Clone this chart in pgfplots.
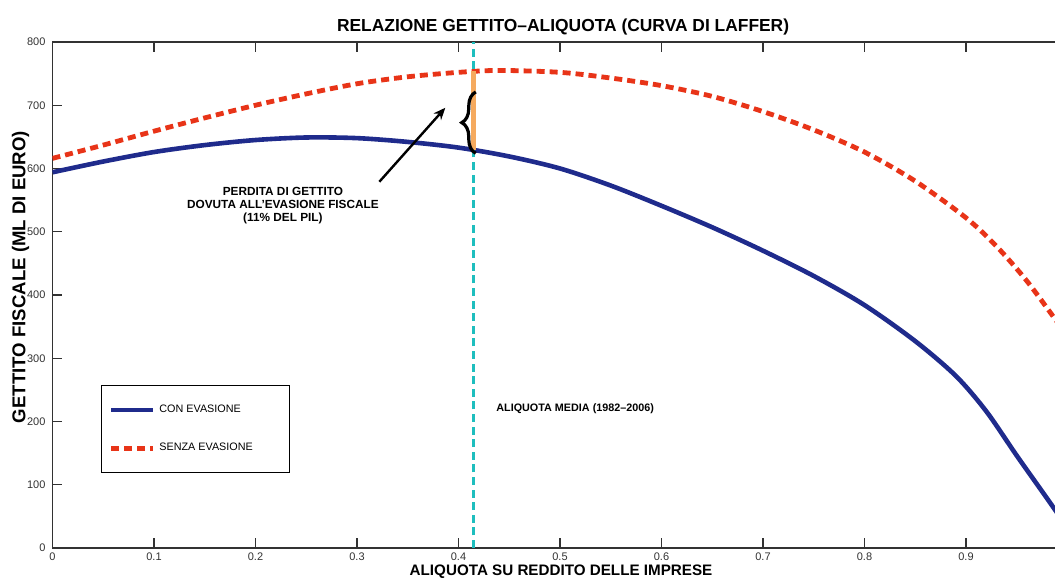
\documentclass[border=0pt]{standalone}
\usepackage{fontspec}
\setmainfont{Liberation Sans}
\usepackage{pgfplots}
\pgfplotsset{compat=1.18}
\usetikzlibrary{arrows.meta,decorations.pathreplacing}
\definecolor{cblue}{RGB}{31,43,140}
\definecolor{cred}{RGB}{232,52,24}
\definecolor{ccyan}{RGB}{30,190,190}
\definecolor{corange}{RGB}{245,170,95}
\definecolor{caxis}{RGB}{50,50,50}

\pgfplotstableread{
x y
0 594
0.05 611
0.1 626
0.15 637
0.2 645
0.25 649
0.3 648
0.35 642
0.4 633
0.45 619
0.5 600
0.55 573
0.6 541
0.65 507
0.7 470
0.75 430
0.8 384
0.85 327
0.89 272
0.92 216
0.95 146
0.98 78
1.0 32
}\contab

\pgfplotstableread{
x y
0 616
0.05 637
0.1 659
0.15 680
0.2 700
0.25 718
0.3 734
0.35 745
0.4 752
0.44 755
0.5 752
0.55 743
0.6 731
0.65 714
0.7 690
0.75 661
0.8 626
0.85 580
0.9 522
0.93 477
0.96 422
0.99 357
1.0 336
}\senzatab

\begin{document}
\begin{tikzpicture}
\begin{axis}[
  scale only axis, width=507.5bp, height=253bp,
  xmin=0, xmax=1, ymin=0, ymax=800,
  xtick={0,0.1,0.2,0.3,0.4,0.5,0.6,0.7,0.8,0.9},
  extra x ticks={1}, extra x tick labels={},
  ytick={0,100,200,300,400,500,600,700,800},
  tick align=inside, major tick length=5bp,
  axis line style={caxis, line width=0.75bp},
  every tick/.style={caxis, line width=0.6bp},
  tick label style={font=\fontsize{5.5bp}{6bp}\selectfont, text=caxis},
  /pgf/number format/assume math mode=true,
  xticklabel style={/pgf/number format/fixed, yshift=1bp},
  title={RELAZIONE GETTITO–ALIQUOTA (CURVA DI LAFFER)},
  title style={font=\fontsize{8.7bp}{10bp}\selectfont\bfseries, at={(axis description cs:0.503,1.029)}, anchor=center, yshift=-6pt},
  xlabel={ALIQUOTA SU REDDITO DELLE IMPRESE},
  xlabel style={font=\fontsize{7.6bp}{9bp}\selectfont\bfseries, at={(axis description cs:0.501,-0.047)}, anchor=center},
  ylabel={GETTITO FISCALE (ML DI EURO)},
  ylabel style={font=\fontsize{9.3bp}{10bp}\selectfont\bfseries, at={(axis description cs:-0.0315,0.5356)}, anchor=center, rotate=0},
  legend style={at={(axis cs:0.0478,257.7)}, anchor=north west, draw=black, line width=0.6bp,
    font=\fontsize{5.4bp}{6bp}\selectfont, inner xsep=3.5bp, inner ysep=7.5bp, row sep=10bp,
    nodes={inner sep=2bp}},
  legend cell align=left,
  legend image code/.code={\draw[#1, line cap=butt] (0bp,0bp) -- (21bp,0bp);},
]
\addplot[cblue, line width=2.3bp, smooth] table {\contab};
\addplot[cred, line width=2.4bp, dash pattern=on 4bp off 2.5bp, smooth] table {\senzatab};
\addplot[ccyan, line width=1.5bp, dash pattern=on 4bp off 2.3bp, forget plot] coordinates {(0.415,0) (0.415,800)};
\addplot[corange, line width=2.4bp, forget plot] coordinates {(0.415,629) (0.415,754)};
\legend{CON EVASIONE, SENZA EVASIONE\rule{13bp}{0bp}}

\draw[decorate, decoration={brace, amplitude=7bp}, line width=1.6bp] (axis cs:0.417,624) -- (axis cs:0.417,721);
\draw[-{Stealth[length=6bp,width=5bp]}, line width=1.2bp] (axis cs:0.322,579) -- (axis cs:0.387,696);
\node[align=center, font=\fontsize{5.9bp}{6.5bp}\selectfont\bfseries] at (axis cs:0.227,542)
  {PERDITA DI GETTITO\\DOVUTA ALL'EVASIONE FISCALE\\(11\% DEL PIL)};
\node[anchor=west, inner sep=0pt, font=\fontsize{5.4bp}{6bp}\selectfont\bfseries] at (axis cs:0.4369,219.8)
  {ALIQUOTA MEDIA (1982–2006)};

\coordinate (BL) at (axis cs:-0.05172,-47.4);
\coordinate (TR) at (axis cs:0.98768,866.4);
\end{axis}
\pgfresetboundingbox
\useasboundingbox (BL) rectangle (TR);
\end{tikzpicture}
\end{document}
